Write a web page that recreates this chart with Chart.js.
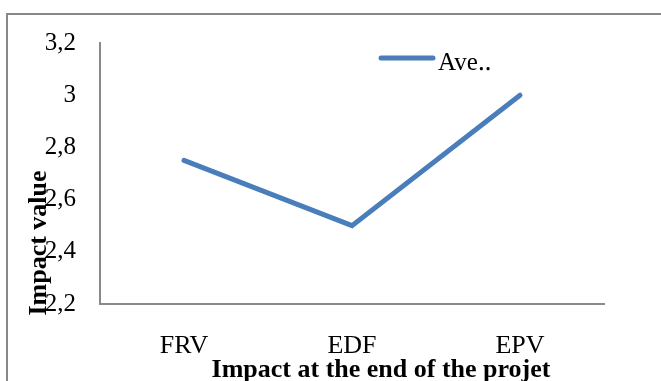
<!DOCTYPE html>
<html>
<head>
<meta charset="utf-8">
<script src="https://cdn.jsdelivr.net/npm/chart.js@4/dist/chart.umd.min.js"></script>
<style>
  html, body { margin: 0; padding: 0; background: #ffffff; }
  #wrap { width: 661px; height: 381px; }
</style>
</head>
<body>
<div id="wrap"><canvas id="chart" width="661" height="381"></canvas></div>
<script>
// Categories and series
const categories = ['FRV', 'EDF', 'EPV'];
const averageValues = [2.75, 2.5, 3.0];
const seriesLabel = 'Ave\u2025';
const yTicks = [2.2, 2.4, 2.6, 2.8, 3.0, 3.2];
const xTitle = 'Impact at the end of the projet';
const yTitle = 'Impact value';

const SERIF = '"Liberation Serif", "Times New Roman", serif';
const AXIS_GRAY = '#898989';
const LINE_BLUE = '#4A7EBB';

// Frame, axis titles and the in-plot legend
const decorations = {
  id: 'decorations',
  beforeDraw(chart) {
    const ctx = chart.ctx;
    ctx.save();
    ctx.strokeStyle = AXIS_GRAY;
    ctx.lineWidth = 2;
    ctx.beginPath();
    ctx.moveTo(7, chart.height);
    ctx.lineTo(7, 14);
    ctx.lineTo(chart.width, 14);
    ctx.stroke();
    ctx.restore();
  },
  afterDraw(chart) {
    const ctx = chart.ctx;
    const ds = chart.data.datasets[0];
    ctx.save();
    // legend entry
    ctx.strokeStyle = ds.borderColor;
    ctx.lineWidth = 5;
    ctx.lineCap = 'round';
    ctx.beginPath();
    ctx.moveTo(381, 58);
    ctx.lineTo(433, 58);
    ctx.stroke();
    ctx.fillStyle = '#000';
    ctx.font = '25px ' + SERIF;
    ctx.textAlign = 'left';
    ctx.textBaseline = 'alphabetic';
    ctx.fillText(ds.label, 438, 70);
    // x axis title
    ctx.font = 'bold 26px ' + SERIF;
    ctx.textAlign = 'center';
    ctx.fillText(xTitle, 381, 377);
    // y axis title
    ctx.translate(39, 243);
    ctx.rotate(-Math.PI / 2);
    ctx.textBaseline = 'middle';
    ctx.fillText(yTitle, 0, 0);
    ctx.restore();
  }
};

new Chart(document.getElementById('chart'), {
  type: 'line',
  data: {
    labels: categories,
    datasets: [{
      label: seriesLabel,
      data: averageValues,
      borderColor: LINE_BLUE,
      backgroundColor: LINE_BLUE,
      borderWidth: 5,
      borderCapStyle: 'round',
      pointRadius: 0,
      pointHoverRadius: 0,
      tension: 0,
      fill: false
    }]
  },
  options: {
    responsive: false,
    devicePixelRatio: 1,
    animation: false,
    events: [],
    layout: { padding: { top: 43, right: 57, left: 0, bottom: 0 } },
    plugins: {
      legend: { display: false },
      tooltip: { enabled: false },
      title: { display: false }
    },
    scales: {
      x: {
        offset: true,
        grid: { display: false, drawTicks: false },
        border: { display: true, color: AXIS_GRAY, width: 2 },
        ticks: {
          color: '#000',
          font: { family: SERIF, size: 26 },
          padding: 27,
          maxRotation: 0,
          autoSkip: false
        },
        afterFit(scale) { scale.height = 77; }
      },
      y: {
        min: 2.2,
        max: 3.2,
        grid: { display: false, drawTicks: false },
        border: { display: true, color: AXIS_GRAY, width: 2 },
        afterBuildTicks(scale) { scale.ticks = yTicks.map(v => ({ value: v })); },
        ticks: {
          color: '#000',
          font: { family: SERIF, size: 25 },
          padding: 24,
          callback: v => String(Math.round(v * 10) / 10).replace('.', ',')
        },
        afterFit(scale) { scale.width = 100; }
      }
    }
  },
  plugins: [decorations]
});
</script>
</body>
</html>
